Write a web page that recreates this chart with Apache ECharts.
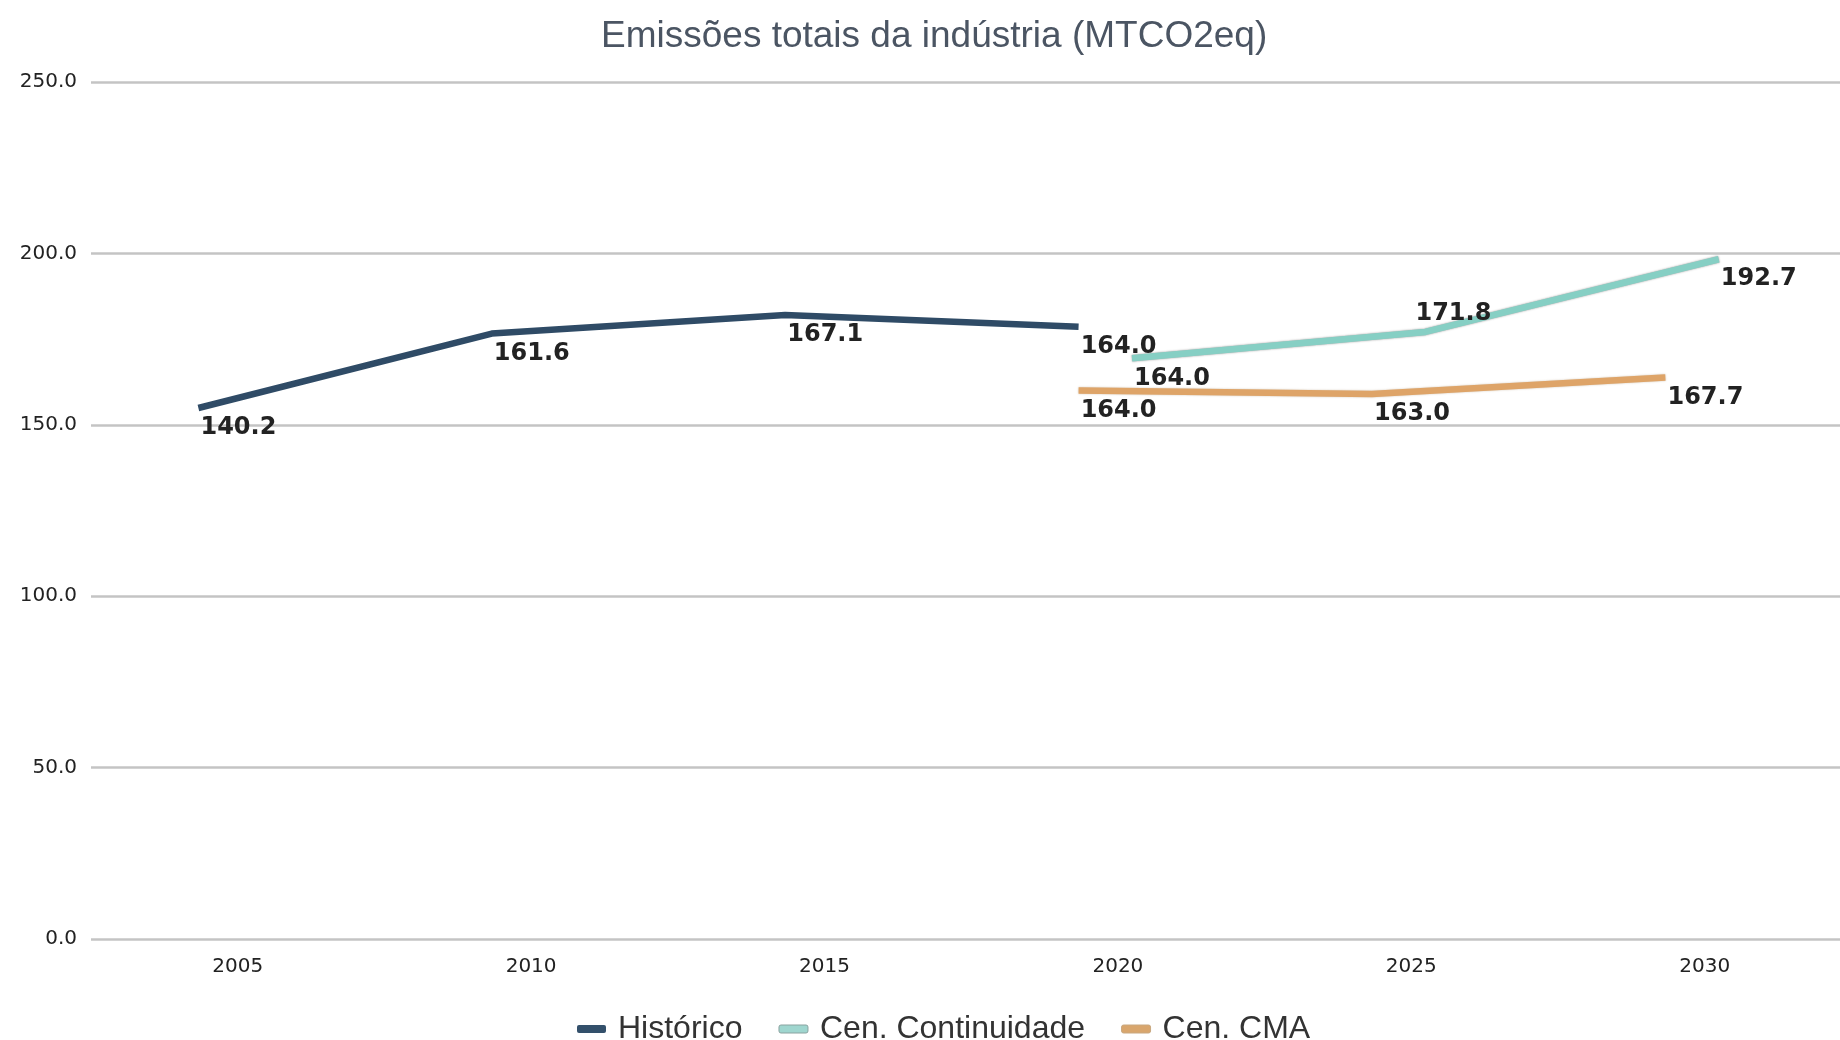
<!DOCTYPE html>
<html><head><meta charset="utf-8">
<script src="https://cdn.jsdelivr.net/npm/echarts@6/dist/echarts.min.js"></script>
<style>html,body{margin:0;padding:0;background:#fff}#c{width:1840px;height:1040px}</style>
</head><body><div id="c"></div>
<script>
// ---- data ----
const categories = [2005, 2010, 2015, 2020, 2025, 2030];
const yTicks = [0, 50, 100, 150, 200, 250];
const seriesNames = ['Histórico', 'Cen. Continuidade', 'Cen. CMA'];

const historicoYears = [2005, 2010, 2015, 2020];
const historicoValues = [154.9, 176.6, 182.0, 178.6];
const historicoLabels = ['140.2', '161.6', '167.1', '164.0'];

const continuidadeYears = [2020, 2025, 2030];
const continuidadeValues = [169.4, 177.1, 198.3];
const continuidadeLabels = ['164.0', '171.8', '192.7'];

const cmaYears = [2020, 2025, 2030];
const cmaValues = [160.0, 159.0, 163.8];
const cmaLabels = ['164.0', '163.0', '167.7'];

// ---- rendering ----
const chart = echarts.init(document.getElementById('c'), null, {renderer: 'canvas'});
const FONT = 'DejaVu Sans';
const GRID_LEFT = 91;
const PX_PER_YEAR = 58.68;
const yearMin = categories[0] - 2.5;
const yearMax = yearMin + (1840 - GRID_LEFT) / PX_PER_YEAR;

function makeSeries(name, years, values, labels, shift, color, extraLine, labelOverrides) {
  return {
    name: name,
    type: 'line',
    data: years.map((y, i) => {
      const item = {value: [y + shift, values[i]]};
      if (labelOverrides && labelOverrides[i]) item.label = labelOverrides[i];
      return item;
    }),
    symbol: 'circle',
    symbolSize: 2,
    showSymbol: true,
    itemStyle: {color: 'rgba(0,0,0,0)'},
    lineStyle: Object.assign({color: color, width: 6.5, cap: 'butt', join: 'round'}, extraLine || {}),
    label: {
      show: true,
      position: [41, 21],
      align: 'center',
      verticalAlign: 'middle',
      fontFamily: FONT,
      fontWeight: 'bold',
      fontSize: 24,
      color: '#222222',
      formatter: p => labels[p.dataIndex]
    },
    emphasis: {disabled: true},
    animation: false,
    z: 3
  };
}

const option = {
  backgroundColor: '#ffffff',
  animation: false,
  title: {
    text: 'Emissões totais da indústria (MTCO2eq)',
    left: 596,
    top: 13,
    textStyle: {fontFamily: 'Liberation Sans', fontSize: 37, fontWeight: 'normal', color: '#4b5563'}
  },
  legend: {
    left: 572,
    top: 1008,
    itemWidth: 29,
    itemHeight: 8,
    itemGap: 36,
    icon: 'roundRect',
    textStyle: {fontFamily: 'Liberation Sans', fontSize: 32, color: '#333333', padding: [0, 0, 0, 7]},
    data: [
      {name: seriesNames[0], itemStyle: {color: '#33506b'}},
      {name: seriesNames[1], itemStyle: {color: '#9fd6cf', borderColor: '#8aa3a0', borderWidth: 1}},
      {name: seriesNames[2], itemStyle: {color: '#d9a66d', borderColor: '#c9a880', borderWidth: 1}}
    ]
  },
  grid: {left: GRID_LEFT, top: 82, right: 0, bottom: 101, containLabel: false},
  xAxis: {
    type: 'value',
    min: yearMin,
    max: yearMax,
    axisLine: {show: false},
    axisTick: {show: false},
    splitLine: {show: false},
    axisLabel: {
      fontFamily: FONT, fontSize: 20, color: '#222222', margin: 18,
      customValues: categories,
      formatter: v => String(v)
    }
  },
  yAxis: {
    type: 'value',
    min: yTicks[0],
    max: yTicks[yTicks.length - 1],
    interval: yTicks[1] - yTicks[0],
    axisLine: {show: false},
    axisTick: {show: false},
    axisLabel: {fontFamily: FONT, fontSize: 20, color: '#222222', margin: 14, formatter: v => v.toFixed(1)},
    splitLine: {lineStyle: {color: '#c4c4c4', width: 2.5}}
  },
  series: [
    makeSeries(seriesNames[0], historicoYears, historicoValues, historicoLabels, -0.67, '#2f4b66'),
    makeSeries(seriesNames[1], continuidadeYears, continuidadeValues, continuidadeLabels, 0.24, '#86cfc4',
      {shadowColor: 'rgba(60,60,60,0.55)', shadowBlur: 2},
      {1: {position: [29, -17]}}),
    makeSeries(seriesNames[2], cmaYears, cmaValues, cmaLabels, -0.67, '#dea468',
      {shadowColor: 'rgba(150,120,80,0.45)', shadowBlur: 2})
  ]
};
chart.setOption(option);
</script>
</body></html>
